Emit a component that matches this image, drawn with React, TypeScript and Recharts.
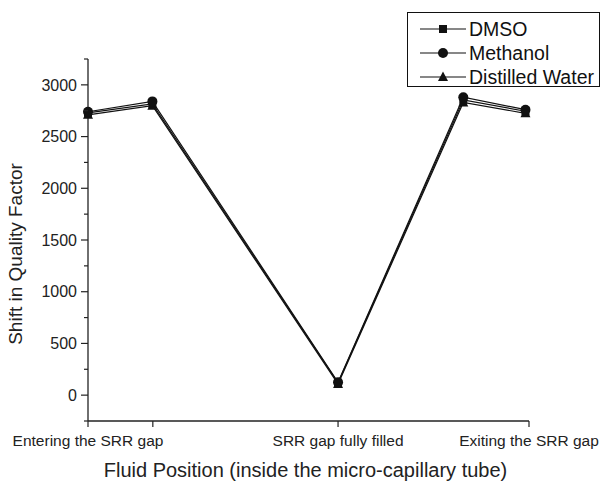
import React from 'react';
import { LineChart, Line, XAxis, YAxis, Label } from 'recharts';

const FONT = '"Liberation Sans", Arial, Helvetica, sans-serif';

// x positions (percentage along the fluid path)
const positions = [0, 14.6, 56.7, 85.1, 99.2];
const dmso = [2730, 2815, 120, 2855, 2745];
const methanol = [2740, 2840, 125, 2880, 2760];
const water = [2710, 2798, 108, 2830, 2725];

const xTicks = [0, 14.7, 56.7, 100];
const xTickLabels = ['Entering the SRR gap', '', 'SRR gap fully filled', 'Exiting the SRR gap'];
const yTicks = [-250, 0, 250, 500, 750, 1000, 1250, 1500, 1750, 2000, 2250, 2500, 2750, 3000, 3250];
const yLabelled = [0, 500, 1000, 1500, 2000, 2500, 3000];
const seriesNames = ['DMSO', 'Methanol', 'Distilled Water'];

const data = positions.map((p, i) => ({
  pos: p,
  dmso: dmso[i],
  methanol: methanol[i],
  water: water[i],
}));

const INK = '#111';

const SquareDot = (p: any) => (
  <rect key={`s${p.index}`} x={p.cx - 4} y={p.cy - 4} width={8} height={8} fill={INK} />
);
const CircleDot = (p: any) => <circle key={`c${p.index}`} cx={p.cx} cy={p.cy} r={5} fill={INK} />;
const TriDot = (p: any) => (
  <polygon
    key={`t${p.index}`}
    points={`${p.cx},${p.cy - 5.5} ${p.cx + 5},${p.cy + 4} ${p.cx - 5},${p.cy + 4}`}
    fill={INK}
  />
);

const YTick = (props: any) => {
  const { x, y, payload } = props;
  const v = payload.value;
  const major = yLabelled.indexOf(v) >= 0;
  return (
    <g>
      <line x1={x} x2={x - (major ? 7 : 4)} y1={y} y2={y} stroke="#222" strokeWidth={1.2} />
      {major && (
        <text x={x - 11} y={y} dy="0.36em" textAnchor="end" fontFamily={FONT} fontSize={16} fill="#222">
          {v}
        </text>
      )}
    </g>
  );
};

const XTick = (props: any) => {
  const { x, y, payload, index } = props;
  const idx = xTicks.indexOf(payload.value);
  const label = xTickLabels[idx >= 0 ? idx : index] || '';
  return (
    <g>
      <line x1={x} x2={x} y1={y} y2={y + 6} stroke="#222" strokeWidth={1.2} />
      {label && (
        <text x={x} y={y + 14} dy="0.71em" textAnchor="middle" fontFamily={FONT} fontSize={15.5} fill="#222">
          {label}
        </text>
      )}
    </g>
  );
};

const YTitle = (props: any) => {
  const vb = props.viewBox || { x: 0, y: 59, width: 88, height: 362 };
  const cx = vb.x + 15;
  const cy = vb.y + vb.height / 2 + 14;
  return (
    <text
      x={cx}
      y={cy}
      transform={`rotate(-90 ${cx} ${cy})`}
      textAnchor="middle"
      dominantBaseline="central"
      fontFamily={FONT}
      fontSize={19}
      fill="#222"
    >
      Shift in Quality Factor
    </text>
  );
};

const XTitle = (props: any) => {
  const vb = props.viewBox || { x: 88, y: 421, width: 441, height: 61 };
  return (
    <text
      x={vb.x + vb.width / 2 - 3}
      y={vb.y + 56}
      textAnchor="middle"
      fontFamily={FONT}
      fontSize={20}
      fill="#222"
    >
      Fluid Position (inside the micro-capillary tube)
    </text>
  );
};

const LegendIcon = ({ kind }: { kind: number }) => (
  <svg width={46} height={20} style={{ display: 'block' }}>
    <line x1={0} x2={46} y1={10} y2={10} stroke={INK} strokeWidth={1.2} />
    {kind === 0 && <rect x={19} y={6} width={8} height={8} fill={INK} />}
    {kind === 1 && <circle cx={23} cy={10} r={5} fill={INK} />}
    {kind === 2 && <polygon points="23,4.5 28,14 18,14" fill={INK} />}
  </svg>
);

export default function App() {
  return (
    <div style={{ position: 'absolute', left: 0, top: 0, width: 603, height: 482, background: '#fff' }}>
      <LineChart
        width={603}
        height={482}
        data={data}
        margin={{ top: 59, right: 74, bottom: 0, left: 0 }}
      >
        <XAxis
          dataKey="pos"
          type="number"
          domain={[0, 100]}
          ticks={xTicks}
          interval={0}
          tickSize={0}
          tickMargin={0}
          tickLine={false}
          tick={<XTick />}
          height={61}
          axisLine={{ stroke: '#222', strokeWidth: 1.3 }}
        >
          <Label content={<XTitle />} />
        </XAxis>
        <YAxis
          type="number"
          domain={[-250, 3250]}
          ticks={yTicks}
          interval={0}
          tickSize={0}
          tickMargin={0}
          tickLine={false}
          tick={<YTick />}
          width={88}
          axisLine={{ stroke: '#222', strokeWidth: 1.3 }}
        >
          <Label content={<YTitle />} />
        </YAxis>
        <Line
          dataKey="water"
          name={seriesNames[2]}
          stroke={INK}
          strokeWidth={1.2}
          dot={TriDot}
          isAnimationActive={false}
        />
        <Line
          dataKey="dmso"
          name={seriesNames[0]}
          stroke={INK}
          strokeWidth={1.2}
          dot={SquareDot}
          isAnimationActive={false}
        />
        <Line
          dataKey="methanol"
          name={seriesNames[1]}
          stroke={INK}
          strokeWidth={1.2}
          dot={CircleDot}
          isAnimationActive={false}
        />
      </LineChart>
      <div
        style={{
          position: 'absolute',
          left: 407,
          top: 12,
          width: 191,
          height: 73,
          border: '1px solid #111',
          background: '#fff',
          fontFamily: FONT,
          fontSize: 19.5,
          color: '#111',
          boxSizing: 'content-box',
        }}
      >
        {seriesNames.map((n, i) => (
          <div
            key={n}
            style={{
              position: 'absolute',
              left: 12,
              top: 5 + i * 24,
              height: 22,
              display: 'flex',
              alignItems: 'center',
              whiteSpace: 'nowrap',
            }}
          >
            <LegendIcon kind={i} />
            <span style={{ marginLeft: 3, lineHeight: '22px' }}>{n}</span>
          </div>
        ))}
      </div>
    </div>
  );
}
